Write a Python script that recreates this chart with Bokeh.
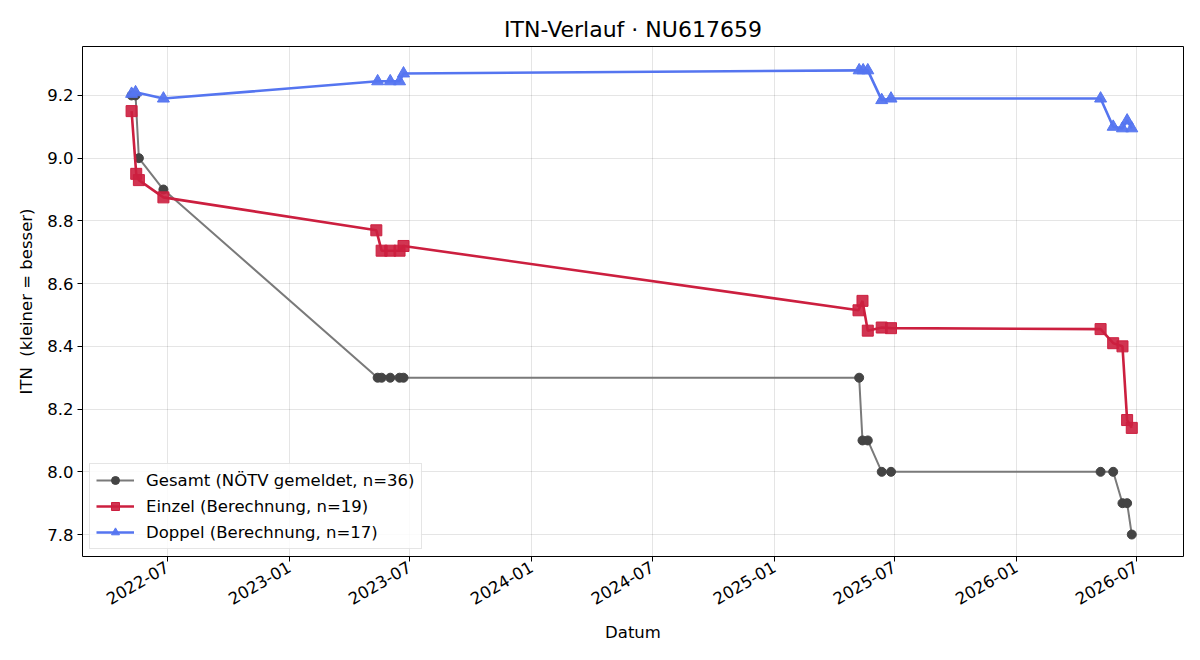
import math
import pandas as pd
from bokeh.plotting import figure
from bokeh.models import FixedTicker, CustomJSTickFormatter, Range1d, Legend, NumeralTickFormatter
from bokeh.embed import file_html
from bokeh.resources import INLINE

# ---- data ----
gesamt_dates = ["2022-05-08", "2022-05-14", "2022-05-19", "2022-06-25",
                "2023-05-14", "2023-05-20", "2023-06-02", "2023-06-16", "2023-06-22",
                "2025-05-09", "2025-05-14", "2025-05-22", "2025-06-12", "2025-06-26",
                "2026-05-08", "2026-05-27", "2026-06-10", "2026-06-17", "2026-06-24"]
gesamt_vals = [9.2, 9.2, 9.0, 8.9,
               8.3, 8.3, 8.3, 8.3, 8.3,
               8.3, 8.1, 8.1, 8.0, 8.0,
               8.0, 8.0, 7.9, 7.9, 7.8]

einzel_dates = ["2022-05-08", "2022-05-15", "2022-05-19", "2022-06-25",
                "2023-05-12", "2023-05-20", "2023-06-02", "2023-06-16", "2023-06-22",
                "2025-05-08", "2025-05-14", "2025-05-22", "2025-06-12", "2025-06-26",
                "2026-05-08", "2026-05-27", "2026-06-10", "2026-06-17", "2026-06-24"]
einzel_vals = [9.15, 8.95, 8.93, 8.875,
               8.77, 8.705, 8.705, 8.705, 8.72,
               8.515, 8.545, 8.45, 8.46, 8.458,
               8.455, 8.41, 8.40, 8.165, 8.14]

doppel_dates = ["2022-05-08", "2022-05-14", "2022-06-25",
                "2023-05-14", "2023-06-02", "2023-06-16", "2023-06-22",
                "2025-05-09", "2025-05-15", "2025-05-22", "2025-06-12", "2025-06-26",
                "2026-05-08", "2026-05-27", "2026-06-10", "2026-06-17", "2026-06-24"]
doppel_vals = [9.205, 9.21, 9.19,
               9.245, 9.245, 9.245, 9.27,
               9.28, 9.28, 9.28, 9.185, 9.19,
               9.19, 9.10, 9.095, 9.12, 9.095]

x_tick_labels = ["2022-07", "2023-01", "2023-07", "2024-01", "2024-07",
                 "2025-01", "2025-07", "2026-01", "2026-07"]
y_ticks = [7.8, 8.0, 8.2, 8.4, 8.6, 8.8, 9.0, 9.2]

labels = ["Gesamt (NÖTV gemeldet, n=36)", "Einzel (Berechnung, n=19)",
          "Doppel (Berechnung, n=17)"]

FONT = "DejaVu Sans"
FS = "16.5px"


def to_ms(strs):
    return [pd.Timestamp(s).value / 1e6 for s in strs]


gx, ex, dx = pd.to_datetime(gesamt_dates), pd.to_datetime(einzel_dates), pd.to_datetime(doppel_dates)

p = figure(width=1200, height=660, output_backend="svg", toolbar_location=None,
           x_axis_type="datetime",
           min_border_left=82, min_border_right=17, min_border_top=46, min_border_bottom=104)

p.x_range = Range1d(pd.Timestamp("2022-02-23"), pd.Timestamp("2026-09-10"))
p.y_range = Range1d(7.73, 9.356)

# Gesamt
l1 = p.line(gx, gesamt_vals, line_color="#7a7a7a", line_width=2)
s1 = p.scatter(gx, gesamt_vals, marker="circle", size=9, fill_color="#444444",
               line_color="#444444", fill_alpha=1.0)
# Einzel
l2 = p.line(ex, einzel_vals, line_color="#cc1f3f", line_width=2.6)
s2 = p.scatter(ex, einzel_vals, marker="square", size=11, fill_color="#cc1f3f",
               line_color="#cc1f3f", fill_alpha=0.9)
# Doppel
l3 = p.line(dx, doppel_vals, line_color="#5575f0", line_width=2.6)
s3 = p.scatter(dx, doppel_vals, marker="triangle", size=12, fill_color="#5575f0",
               line_color="#5575f0", fill_alpha=0.95)

legend = Legend(items=[(labels[0], [l1, s1]), (labels[1], [l2, s2]), (labels[2], [l3, s3])],
                location="bottom_left")
legend.label_text_font = FONT
legend.label_text_font_size = FS
legend.label_text_color = "black"
legend.border_line_color = "#cccccc"
legend.border_line_width = 1
legend.background_fill_alpha = 0.85
legend.glyph_width = 38
legend.glyph_height = 20
legend.spacing = 6
legend.padding = 6
legend.margin = 7
legend.label_standoff = 12
p.add_layout(legend)

# Title
p.title.text = "ITN-Verlauf · NU617659"
p.title.align = "center"
p.title.text_font = FONT
p.title.text_font_size = "22px"
p.title.text_font_style = "normal"
p.title.text_color = "black"

# axes
p.xaxis.ticker = FixedTicker(ticks=to_ms(x_tick_labels))
p.xaxis.formatter = CustomJSTickFormatter(code="""
const d = new Date(tick);
const m = d.getUTCMonth() + 1;
return d.getUTCFullYear() + '-' + (m < 10 ? '0' + m : m);
""")
p.xaxis.major_label_orientation = math.pi / 6
p.yaxis.ticker = FixedTicker(ticks=y_ticks)
p.yaxis.formatter = NumeralTickFormatter(format="0.0")
p.xaxis.axis_label = "Datum"
p.yaxis.axis_label = "ITN\u00a0 (kleiner = besser)"

for ax in [p.xaxis[0], p.yaxis[0]]:
    ax.axis_label_text_font = FONT
    ax.axis_label_text_font_size = FS
    ax.axis_label_text_font_style = "normal"
    ax.axis_label_text_color = "black"
    ax.major_label_text_font = FONT
    ax.major_label_text_font_size = FS
    ax.major_label_text_color = "black"
    ax.axis_line_color = None
    ax.major_tick_line_color = "black"
    ax.major_tick_out = 5
    ax.major_tick_in = 0
    ax.minor_tick_line_color = None
    ax.major_label_standoff = 4
p.xaxis.axis_label_standoff = 10
p.yaxis.axis_label_standoff = 8

p.outline_line_color = "black"
p.outline_line_width = 1
p.grid.grid_line_color = "#000000"
p.grid.grid_line_alpha = 0.1
p.xgrid.ticker = FixedTicker(ticks=to_ms(x_tick_labels))
p.ygrid.ticker = FixedTicker(ticks=y_ticks)
p.background_fill_color = "white"
p.border_fill_color = "white"

open("out.html", "w").write(file_html(p, INLINE))
